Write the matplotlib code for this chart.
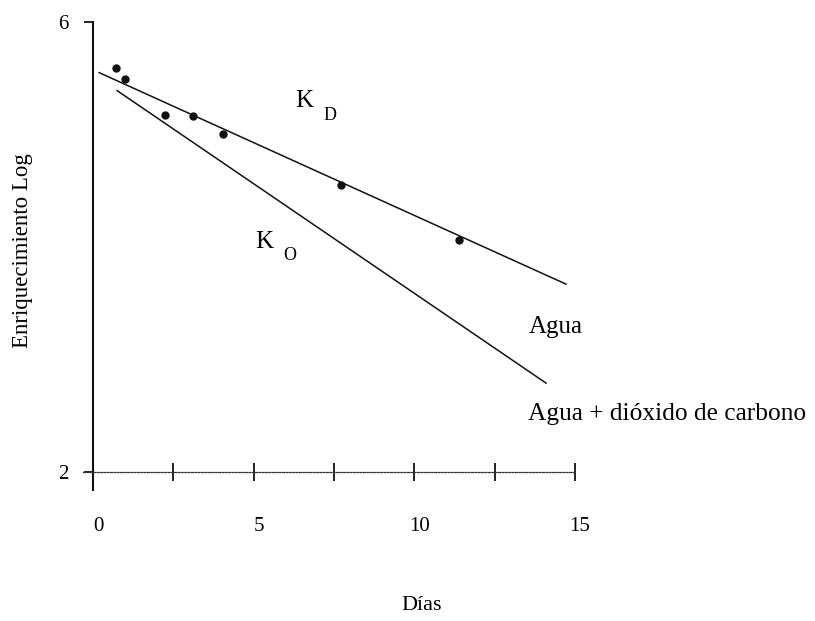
import matplotlib
matplotlib.use("Agg")
import matplotlib.pyplot as plt
import matplotlib.transforms as mtransforms

plt.rcParams['font.family'] = ['Liberation Serif', 'DejaVu Serif']

# Data
dias = [0.71, 1.00, 2.24, 3.11, 4.05, 7.72, 11.39]
log_enriq = [5.59, 5.49, 5.17, 5.16, 5.00, 4.55, 4.06]

agua_x = [0.19, 14.72]
agua_y = [5.55, 3.67]
co2_x = [0.75, 14.10]
co2_y = [5.39, 2.79]

xticks = [0, 2.5, 5, 7.5, 10, 12.5, 15]
xticklabels = ['0', '', '5', '', '10', '', '15']
yticks = [2, 6]
yticklabels = ['2', '6']

fig = plt.figure(figsize=(8.15, 6.21), dpi=100)
ax = fig.add_axes([0.0944, 0.1856, 0.6308, 0.7971])
ax.set_xlim(-0.5, 15.5)
ax.set_ylim(1.7, 6.1)

ink = '#111111'
ax.plot(agua_x, agua_y, color=ink, lw=1.1)
ax.plot(co2_x, co2_y, color=ink, lw=1.1)
ax.plot(dias, log_enriq, 'o', color=ink, ms=5, ls='none')

for s in ['top', 'right']:
    ax.spines[s].set_visible(False)
ax.spines['left'].set_position(('data', 0))
ax.spines['left'].set_bounds(1.84, 6.0)
ax.spines['left'].set_linewidth(1.5)
ax.spines['left'].set_color(ink)
ax.spines['bottom'].set_position(('data', 2))
ax.spines['bottom'].set_bounds(-0.31, 15)
ax.spines['bottom'].set_linestyle((0, (1.5, 1.2)))
ax.spines['bottom'].set_linewidth(0.9)
ax.spines['bottom'].set_color('#333333')

ax.set_xticks(xticks)
ax.set_xticklabels(xticklabels, fontsize=15)
ax.set_yticks(yticks)
ax.set_yticklabels(yticklabels, fontsize=15)
ax.tick_params(axis='x', direction='inout', length=13, width=1.3, pad=26, color=ink)
ax.tick_params(axis='y', direction='out', length=6.5, width=1.3, pad=11.5, color=ink)

off = mtransforms.ScaledTranslation(5 / 100, 0, fig.dpi_scale_trans)
for lbl in ax.get_xticklabels():
    lbl.set_transform(lbl.get_transform() + off)

# Annotations
ax.text(6.29, 5.244, 'K', fontsize=18, ha='left', va='baseline')
ax.text(7.16, 5.129, 'D', fontsize=13, ha='left', va='baseline')
ax.text(5.04, 3.991, 'K', fontsize=18, ha='left', va='baseline')
ax.text(5.91, 3.884, 'O', fontsize=13, ha='left', va='baseline')
ax.text(13.55, 3.236, 'Agua', fontsize=18, ha='left', va='baseline', clip_on=False)
ax.text(13.55, 2.462, 'Agua + dióxido de carbono', fontsize=18.3, ha='left',
        va='baseline', clip_on=False)

fig.text(422 / 815, 1 - 605 / 621, 'Días', fontsize=16, ha='center', va='center')
fig.text(23 / 815, 1 - 251 / 621, 'Enriquecimiento Log', fontsize=16.5,
         rotation=90, ha='center', va='center')

fig.savefig('out.png', dpi=100, facecolor='white')
